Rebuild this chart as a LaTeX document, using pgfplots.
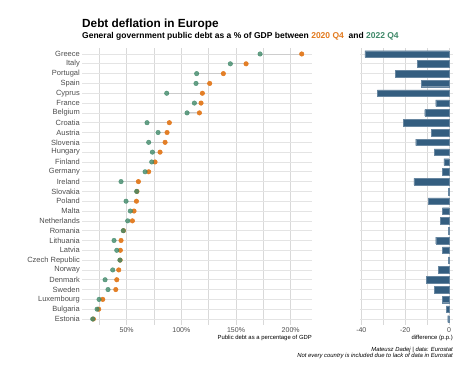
\documentclass[border=0pt]{standalone}
\usepackage{fontspec}
\setmainfont{Liberation Sans}
\usepackage{pgfplots}
\pgfplotsset{compat=1.18}
\usepackage{pgfplotstable}
\definecolor{org}{RGB}{226,121,29}
\definecolor{grn}{RGB}{62,136,104}
\definecolor{barc}{RGB}{52,94,128}
\definecolor{txt}{RGB}{77,77,77}
\definecolor{gridv}{RGB}{217,217,217}
\definecolor{gridh}{RGB}{228,228,228}
\definecolor{seg}{RGB}{205,205,205}

\pgfplotstableread{
idx a b d
0 210.1 172.0 -38.4
1 159.2 144.8 -14.4
2 138.4 114.0 -24.5
3 125.9 113.4 -12.5
4 119.2 86.6 -32.7
5 118.0 111.9 -6.1
6 116.5 105.2 -11.1
7 89.0 68.6 -20.8
8 86.9 78.7 -8.2
9 85.1 70.1 -15.2
10 80.5 73.5 -6.8
11 75.9 72.9 -2.4
12 70.1 66.8 -3.2
13 60.7 44.8 -16.0
14 59.4 59.1 -0.3
15 58.9 49.4 -9.4
16 56.7 53.3 -3.0
17 55.2 50.9 -4.1
18 47.1 46.8 -0.3
19 44.8 38.4 -6.1
20 44.2 40.9 -3.0
21 44.0 43.8 -0.3
22 42.7 37.2 -4.8
23 40.9 30.2 -10.5
24 40.0 32.9 -6.7
25 28.1 24.7 -3.0
26 24.4 22.9 -1.2
27 19.5 18.9 -0.6
}\debt

\pgfplotsset{panel/.style={
  scale only axis, height=276.8pt,
  ymin=-0.6, ymax=27.6, y dir=reverse,
  ytick={0,...,27},
  axis line style={draw=none},
  major tick length=0pt, minor tick length=0pt,
  tick style={draw=none},
  ymajorgrids, xmajorgrids, xminorgrids,
  y grid style={gridh, line width=0.7pt},
  x grid style={gridv, line width=0.7pt},
  minor x grid style={gridv, line width=0.7pt},
  xticklabel style={font=\fontsize{7}{8}\selectfont, text=txt, inner sep=0pt, yshift=-2.6pt},
  yticklabel style={font=\fontsize{7.5}{9}\selectfont, text=txt, inner sep=0pt, xshift=-2pt},
}}

\begin{document}
\begin{tikzpicture}
\path[use as bounding box] (0pt,0pt) rectangle (474pt,379pt);

\begin{axis}[panel, at={(82pt,54.1pt)}, anchor=south west, width=230pt,
  xmin=9.1, xmax=219.5,
  xtick={50,100,150,200}, xticklabels={50\%,100\%,150\%,200\%},
  minor xtick={25,75,125,175},
  yticklabels={Greece,Italy,Portugal,Spain,Cyprus,France,Belgium,Croatia,Austria,Slovenia,Hungary,Finland,Germany,Ireland,Slovakia,Poland,Malta,Netherlands,Romania,Lithuania,Latvia,{Czech Republic},Norway,Denmark,Sweden,Luxembourg,Bulgaria,Estonia},
]
\addplot[draw=none, mark=none, forget plot,
  error bars/.cd, x dir=minus, x explicit, error mark=none,
  error bar style={color=seg, line width=0.8pt}]
  table[x=a, y=idx, x error minus expr=\thisrow{a}-\thisrow{b}] {\debt};
\addplot[only marks, color=org, mark=*, mark size=2.25pt, mark options={solid, draw=org, fill=org, line width=0.5pt, opacity=0.95}]
  table[x=a, y=idx] {\debt};
\addplot[only marks, color=grn, mark=*, mark size=2.25pt, mark options={solid, draw=grn, fill=grn, line width=0.5pt, opacity=0.78}]
  table[x=b, y=idx] {\debt};
\end{axis}

\begin{axis}[panel, at={(360pt,54.1pt)}, anchor=south west, width=93pt,
  xmin=-40.6, xmax=1.8,
  xtick={-40,-20,0}, xticklabels={-40,-20,0},
  minor xtick={-30,-10},
  yticklabels={},
]
\addplot[xbar, bar width=6.6pt, fill=barc, draw=barc!75!white, line width=0.3pt]
  table[x=d, y=idx] {\debt};
\end{axis}

\node[anchor=base west, inner sep=0pt, font=\bfseries\fontsize{11.8}{14}\selectfont] at (82pt,351pt) {Debt deflation in Europe};
\node[anchor=base west, inner sep=0pt, font=\bfseries\fontsize{8.5}{10}\selectfont] at (82pt,340.8pt) {General government public debt as a \% of GDP between \textcolor{org}{2020 Q4}\ \ and \textcolor{grn}{2022 Q4}};
\node[anchor=base east, inner sep=0pt, font=\fontsize{5.9}{7}\selectfont] at (312pt,39.6pt) {Public debt as a percentage of GDP};
\node[anchor=base east, inner sep=0pt, font=\fontsize{5.9}{7}\selectfont] at (453pt,39.6pt) {difference (p.p.)};
\node[anchor=base east, inner sep=0pt, font=\itshape\fontsize{5.9}{7}\selectfont] at (453pt,27.4pt) {Mateusz Dadej | data: Eurostat};
\node[anchor=base east, inner sep=0pt, font=\itshape\fontsize{5.9}{7}\selectfont] at (453pt,21.6pt) {Not every country is included due to lack of data in Eurostat};
\end{tikzpicture}
\end{document}
